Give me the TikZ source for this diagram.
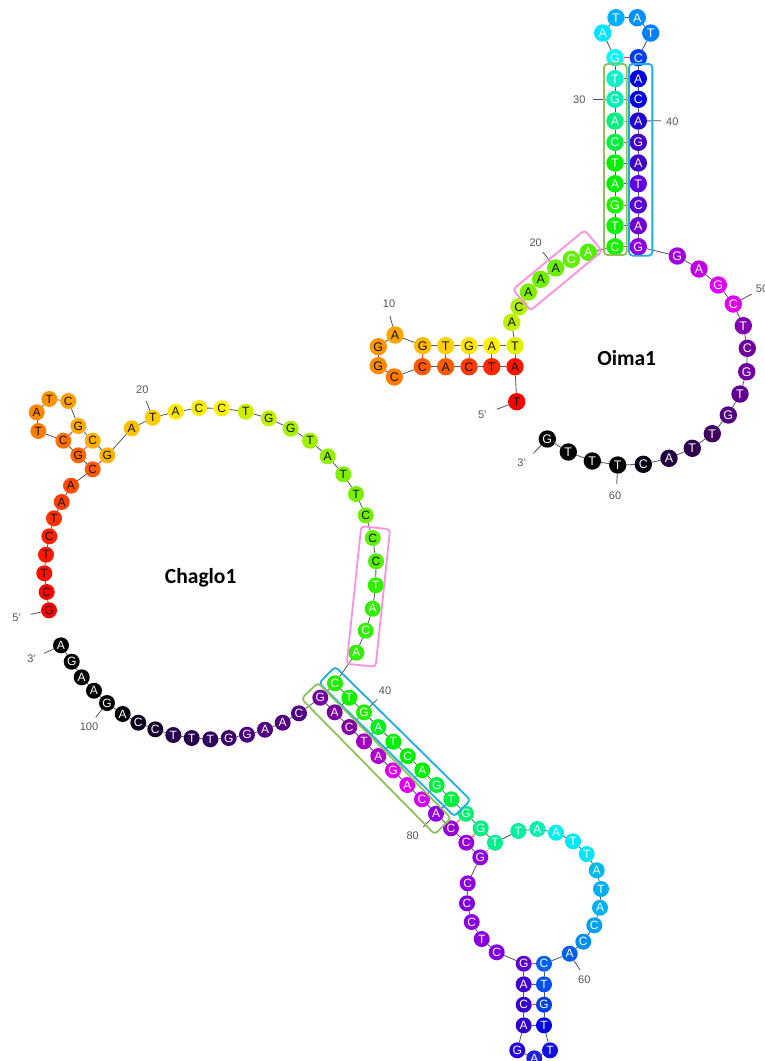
\documentclass[tikz,border=0pt]{standalone}
\usepackage{fontspec}
\setmainfont{Liberation Sans}
\newfontfamily\titlefont{Carlito}
\usetikzlibrary{backgrounds}
\definecolor{K}{HTML}{111111}
\definecolor{W}{HTML}{FFFFFF}
\definecolor{boxpink}{HTML}{FF90DE}
\definecolor{boxgreen}{HTML}{8FC35A}
\definecolor{boxblue}{HTML}{1CAEE8}
\definecolor{labgrey}{HTML}{555555}
\tikzset{
  ntbase/.style={circle,inner sep=0pt,outer sep=0pt,font=\fontsize{12.5}{12.5}\selectfont},
  ntoima/.style={ntbase,minimum size=17.4pt},
  ntchag/.style={ntbase,minimum size=16pt,font=\fontsize{12}{12}\selectfont},
  backbone/.style={draw=labgrey,line width=0.8pt},
  pgc/.style={draw=red!75!white,line width=1pt},
  pat/.style={draw=blue!45!gray,line width=1pt},
  pgu/.style={draw=gray!70,line width=0.8pt},
  tick/.style={draw=labgrey,line width=0.8pt},
  lab/.style={text=labgrey,inner sep=0pt,font=\fontsize{11}{11}\selectfont},
  hl/.style={rectangle,rounded corners=3.5pt,line width=1.8pt,inner sep=0pt,fill=none},
  title/.style={text=black,inner sep=0pt,font=\titlefont\bfseries\fontsize{21.5}{21.5}\selectfont},
}
\begin{document}
\begin{tikzpicture}[x=1pt,y=-1pt]
\useasboundingbox (0,0) rectangle (765,1061);

% ---------- Oima1 nucleotides
\foreach \i/\ltr/\x/\y/\c/\t in {
1/T/516.7/401.7/FF0000/K,2/A/515/366.7/FF1400/K,3/T/491.7/366.7/FF2800/K,4/C/469/366.7/FF3C00/K,
5/A/445.7/366.7/FF5C00/K,6/C/422.3/366.7/FF5A00/K,7/C/394.3/377/FF7A00/K,8/G/378.3/365.7/FF8C00/K,
9/G/378.3/346.7/FF9500/K,10/A/395/335/FFA500/K,11/G/422.7/345.7/FFBB00/K,12/T/445.7/345.7/FFD000/K,
13/G/469/345.7/FFE400/K,14/A/491.7/345.7/FFF000/K,15/T/515/345.7/E0F000/K,16/A/511.7/322.3/C0F000/K,
17/C/519/306.7/B0F000/K,18/A/528.3/292/80F000/K,19/A/540.7/279.3/70F000/K,20/A/555.7/268/6AF000/K,
21/C/571.3/259.3/60F000/W,22/A/588.3/252.3/50F000/W,23/C/615/246.7/18F000/W,24/T/615/225.7/10F000/W,
25/G/615/205/20F000/W,26/A/615/183.7/00F000/W,27/T/615/163/00F000/W,28/C/615/142.3/00F040/W,
29/A/615/121/00F080/W,30/G/615/99.3/00F0B0/W,31/T/615/78.7/10F0C8/W,32/G/615/57.7/00F8FF/W,
33/A/602.7/33/00E4FF/W,34/T/616/17.7/00B0FF/W,35/A/637.3/17.7/0090FF/W,36/T/650.7/33/0080FF/W,
37/C/638.3/57.7/0040F0/W,38/A/638.3/78.7/0000E0/W,39/C/638.3/99.3/0000E0/W,40/A/638.3/121/2000D0/W,
41/G/638.3/142.3/4000C8/W,42/A/638.3/163/4000C8/W,43/T/638.3/183.7/6000E0/W,44/C/638.3/205/5800D8/W,
45/A/638.3/225.7/7000D0/W,46/G/638.3/246.7/9000E0/W,47/G/677.3/256/A000E0/W,48/A/699/269/C000E8/W,
49/G/718.3/285/E000FF/W,50/C/733.3/304/E000F0/W,51/T/743.3/325.7/8000B0/W,52/C/747.3/348.3/7000A0/W,
53/G/746.7/371.7/7000A0/W,54/T/740/394/600090/W,55/G/728.3/415/500080/W,56/T/712.3/433.7/400060/W,
57/T/692.3/448.3/300050/W,58/A/669/458.3/200040/W,59/C/643.3/464.3/000010/W,60/T/617.7/465/000000/W,
61/T/592.3/461/000000/W,62/T/568.3/452/000000/W,63/G/547.3/439/000000/W}
{
  \definecolor{cc}{HTML}{\c}
  \node[ntoima,fill=cc,text=\t] (o\i) at (\x,\y) {\ltr};
}

% ---------- Chaglo1 nucleotides
\foreach \i/\ltr/\x/\y/\c/\t in {
1/G/49/610.3/FF0000/K,2/C/46.7/592/FF0000/K,3/T/44.3/573.3/FF1000/K,4/T/46/554.7/FF1800/K,
5/C/49.3/536.3/FF2000/K,6/T/54/518.3/FF3000/K,7/A/61.7/502/FF3C00/K,8/A/71/485.7/FF4C00/K,
9/C/92.7/469.3/FF5A00/K,10/G/78.3/455.3/FF6400/K,11/C/63.3/440.7/FF7000/K,12/T/38.3/431/FF7C00/K,
13/A/36.7/412.3/FF8800/K,14/T/49.3/399/FF9400/K,15/C/68.3/401/FFA000/K,16/G/78.3/426/FFAA00/K,
17/C/92.7/440.7/FFB000/K,18/G/107.3/455.3/FFB400/K,19/A/131.7/428.3/FFC000/K,20/T/152.7/417.7/FFCC00/K,
21/A/175.7/411.7/FFE800/K,22/C/199/408/FFEE00/K,23/C/221.7/408.3/FFF000/K,24/T/245.7/411.7/D0EC00/K,
25/G/268.7/418.3/C0F000/K,26/G/290.7/428.7/A8F000/K,27/T/310/440.7/A0F000/K,28/A/327.7/456.3/90F000/K,
29/T/343.3/474.3/80F000/K,30/T/356/494/78F000/K,31/C/365.7/515.3/70F000/K,32/C/372.7/538/60F000/K,
33/C/376/561.3/50F000/K,34/T/375.7/585.3/30F000/W,35/A/372.7/608.7/30F000/W,36/C/365.7/630.7/30F000/W,
37/A/356.3/652.7/30F000/W,38/C/335/683.3/20F000/W,39/T/349.3/697.7/10F000/W,40/G/364/712.3/20F000/W,
41/A/378.3/727/00F020/W,42/T/393.3/741.7/00F000/W,43/C/407.7/756/00F000/W,44/A/422.3/770.3/00F000/W,
45/G/436.7/785/00F040/W,46/T/451.3/799.3/00F040/W,47/G/466/813.7/00F070/W,48/G/480.7/828.3/00F080/W,
49/T/495/842.7/00F090/W,50/T/518.3/831/00F0A0/W,51/A/537.3/829/00F0B0/W,52/A/556/832.7/00F0F0/W,
53/T/573/841.3/00E8F8/W,54/T/586.7/854/00E8F8/W,55/A/596.7/870.3/00B8F0/W,56/T/601/889/00B0F0/W,
57/A/600/907.7/00B0F0/W,58/C/594.3/925.3/00A0F0/W,59/C/583.3/941.7/0090F0/W,60/A/569.7/953.7/0060E8/W,
61/C/544/963.7/0060F0/W,62/T/544/984.3/0050F0/W,63/G/544/1004.7/0040E0/W,64/T/544/1025.3/0000E8/W,
65/T/550/1050.3/1010E0/W,66/A/534.3/1058.3/2020D8/W,67/G/517.3/1050.3/2800D8/W,68/A/523.7/1025.3/3000D0/W,
69/C/523.7/1004.7/3800D0/W,70/A/523.7/984.3/4000D0/W,71/G/523.7/963.7/6000D0/W,72/C/496.7/952.3/8000E0/W,
73/T/481.7/939/8800E0/W,74/C/471.7/922/8C00E0/W,75/C/467/903.3/8000E0/W,76/C/467.7/883.3/9000E0/W,
77/G/480.3/857.3/9000E0/W,78/C/466.3/842.7/9800D8/W,79/C/451/828.3/9800D8/W,80/A/436/813.7/9000E0/W,
81/C/422/799.3/D000F0/W,82/A/407.3/785/E000F0/W,83/G/393/770.3/E000F0/W,84/A/378.3/756/B000D0/W,
85/T/364/741.3/A000C0/W,86/C/349.3/727/8000A0/W,87/A/334.7/712.3/7800A0/W,88/G/320.3/697.7/7000A0/W,
89/C/299/713.3/500080/W,90/A/282.7/722.7/500080/W,91/A/265/729.7/500080/W,92/G/247/734.7/480080/W,
93/G/228.7/738/400070/W,94/T/210.3/739.3/300060/W,95/T/191.7/738/280050/W,96/T/173.3/735/280050/W,
97/C/155.3/729.3/180030/W,98/C/138.3/722.7/100020/W,99/A/122.7/714/000008/W,100/G/107/703/000000/W,
101/A/94/690.7/000000/W,102/A/81.7/677.3/000000/W,103/G/71.7/661.7/000000/W,104/A/61/645.3/000000/W}
{
  \definecolor{cc}{HTML}{\c}
  \node[ntchag,fill=cc,text=\t] (c\i) at (\x,\y) {\ltr};
}

% ---------- position labels
\foreach \nm/\ref/\lx/\ly/\tx/\ty/\txt in {
o5p/o1/482.3/415/496.7/409.3/5',
o3p/o63/521.7/462.3/533.3/453.3/3',
o10/o10/389/304/390/316/10,
o20/o20/535.7/243/542.7/252/20,
o30/o30/579.3/100/593.3/99.3/30,
o40/o40/672.3/121.7/661/120.7/40,
o50/o50/762/289/751.7/294/50,
o60/o60/615/495.7/616.7/484/60,
c5p/c1/16.7/617.3/30.7/614.3/5',
c3p/c104/31.7/659/44.3/653.3/3',
c20/c20/142.3/390/146/400.7/20,
c40/c40/385/690.7/377.3/699.3/40,
c60/c60/584.3/980/580/970/60,
c80/c80/412.7/836/423.3/827/80,
c100/c100/89/727/95.7/717.3/100}
{
  \node[lab] (lab\nm) at (\lx,\ly) {\txt};
  \coordinate (tick\nm) at (\tx,\ty);
  \draw[tick] (tick\nm) -- (\ref);
}

% ---------- backbone and base pairs beneath the nucleotides
\begin{scope}[on background layer]
  \fill[white] (0,0) rectangle (765,1061);
  \foreach \i [remember=\i as \p (initially 1)] in {2,...,63} \draw[backbone] (o\p) -- (o\i);
  \foreach \i [remember=\i as \p (initially 1)] in {2,...,104} \draw[backbone] (c\p) -- (c\i);
  \foreach \a/\b/\s in {2/15/pat,3/14/pat,4/13/pgc,5/12/pat,6/11/pgc,
    23/46/pgc,24/45/pat,25/44/pgc,26/43/pat,27/42/pat,28/41/pgc,29/40/pgu,30/39/pgc,31/38/pat,32/37/pgc}
    \draw[\s] (o\a) -- (o\b);
  \foreach \a/\b/\s in {9/18/pgc,10/17/pgc,11/16/pgc,
    38/88/pgc,39/87/pat,40/86/pgc,41/85/pat,42/84/pat,43/83/pgc,44/82/pgu,45/81/pgc,46/80/pat,
    47/79/pgc,48/78/pgc,49/77/pgu,
    61/71/pgc,62/70/pat,63/69/pgc,64/68/pat}
    \draw[\s] (c\a) -- (c\b);
\end{scope}

% ---------- highlight boxes
\node[hl,draw=boxgreen,minimum width=22.7pt,minimum height=191pt] (ogreen) at (615.3,159.5) {};
\node[hl,draw=boxblue,minimum width=23.3pt,minimum height=191.7pt] (oblue) at (640.7,159.8) {};
\node[hl,draw=boxpink,minimum width=93pt,minimum height=27.4pt,rotate=39.6] (opink) at (557.5,270.3) {};
\node[hl,draw=boxpink,minimum width=138.3pt,minimum height=29pt,rotate=84] (cpink) at (368.4,596.5) {};
\node[hl,draw=boxblue,minimum width=190pt,minimum height=23pt,rotate=-44.6] (cblue) at (394.8,741.5) {};
\node[hl,draw=boxgreen,minimum width=190pt,minimum height=23pt,rotate=-45.5] (cgreen) at (376.3,758.5) {};

% ---------- names
\node[title] (oname) at (626.7,358.3) {Oima1};
\node[title] (cname) at (200.7,577.7) {Chaglo1};
\end{tikzpicture}
\end{document}
